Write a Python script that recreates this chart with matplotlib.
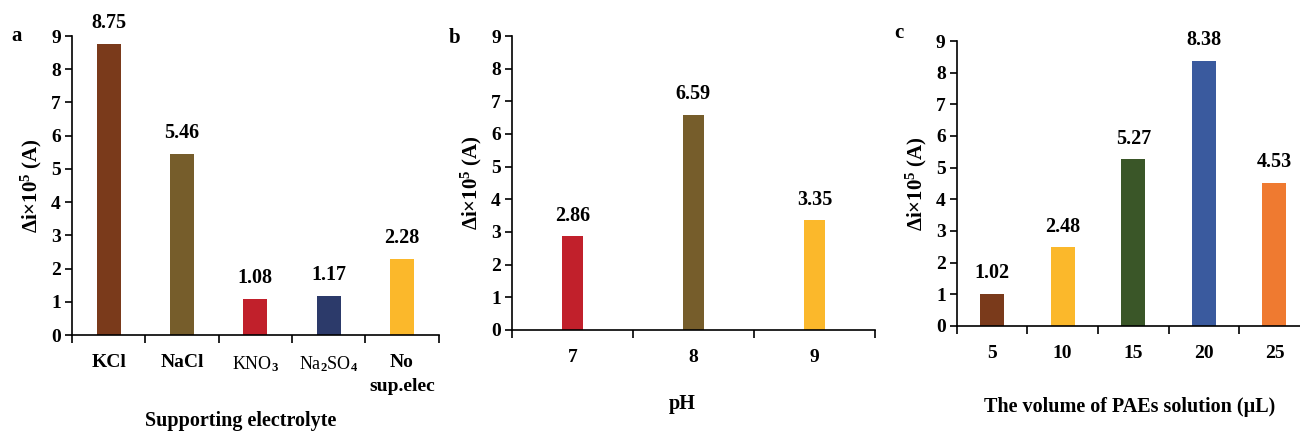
import matplotlib
matplotlib.use("Agg")
import matplotlib.pyplot as plt
import numpy as np

plt.rcParams['font.family'] = 'Liberation Serif'
plt.rcParams['font.weight'] = 'bold'
plt.rcParams['mathtext.fontset'] = 'custom'
plt.rcParams['mathtext.rm'] = 'Liberation Serif:bold'
plt.rcParams['mathtext.bf'] = 'Liberation Serif:bold'
plt.rcParams['mathtext.it'] = 'Liberation Serif:bold'

# (a) supporting electrolyte
elec_labels = ['KCl', 'NaCl', 'KNO$_3$', 'Na$_2$SO$_4$', 'No\nsup.elec']
elec_values = [8.75, 5.46, 1.08, 1.17, 2.28]
elec_colors = ['#7a3a1b', '#765d2b', '#c1202b', '#2c3a6a', '#fbb82b']

# (b) pH
ph_labels = ['7', '8', '9']
ph_values = [2.86, 6.59, 3.35]
ph_colors = ['#c1202b', '#765d2b', '#fbb82b']

# (c) volume of PAEs solution
vol_labels = ['5', '10', '15', '20', '25']
vol_values = [1.02, 2.48, 5.27, 8.38, 4.53]
vol_colors = ['#7a3a1b', '#fbb82b', '#3a5628', '#3a5a9e', '#ef7a30']

ylabel = r'$\Delta$i$\times$10$^5$ (A)'

fig = plt.figure(figsize=(13, 4.34), dpi=100)


def bar_panel(rect, labels, values, colors, width, xlabel, xlabel_xy, letter, letter_xy):
    ax = fig.add_axes(rect)
    n = len(values)
    x = np.arange(n)
    ax.bar(x, values, width=width, color=colors)
    for xi, v in zip(x, values):
        ax.text(xi, v + 0.33, '%.2f' % v, ha='center', va='bottom',
                fontsize=14.5, fontweight='bold')
    ax.set_xlim(-0.5, n - 0.5)
    ax.set_ylim(0, 9)
    ax.set_yticks(range(10))
    ax.set_xticks(x)
    ax.set_xticklabels(labels, linespacing=1.5)
    ax.set_xticks(np.arange(n + 1) - 0.5, minor=True)
    ax.tick_params(axis='x', which='major', length=0, pad=14, labelsize=14)
    ax.tick_params(axis='x', which='minor', length=6, width=1.2, direction='out')
    ax.tick_params(axis='y', length=5, width=1.2, direction='out', labelsize=14, pad=3)
    for s in ['top', 'right']:
        ax.spines[s].set_visible(False)
    for s in ['left', 'bottom']:
        ax.spines[s].set_linewidth(1.2)
    ax.set_ylabel(ylabel, fontsize=15, fontweight='bold', labelpad=5)
    fig.text(xlabel_xy[0], xlabel_xy[1], xlabel, ha='center', va='center',
             fontsize=14.5, fontweight='bold')
    fig.text(letter_xy[0], letter_xy[1], letter, ha='left', va='center',
             fontsize=15, fontweight='bold')
    return ax


ax_a = bar_panel([0.0554, 0.228, 0.282, 0.689], elec_labels, elec_values, elec_colors,
                 0.33, 'Supporting electrolyte', (0.185, 0.030), 'a', (0.009, 0.918))
for lbl in ax_a.get_xticklabels()[2:4]:
    lbl.set_fontweight('normal')
    lbl.set_fontsize(13)

ax_b = bar_panel([0.3938, 0.240, 0.2792, 0.677], ph_labels, ph_values, ph_colors,
                 0.175, 'pH', (0.525, 0.070), 'b', (0.345, 0.912))

ax_c = bar_panel([0.736, 0.249, 0.2715, 0.6565], vol_labels, vol_values, vol_colors,
                 0.34, 'The volume of PAEs solution (\u00b5L)', (0.869, 0.062), 'c', (0.688, 0.925))

fig.savefig('out.png', dpi=100)
